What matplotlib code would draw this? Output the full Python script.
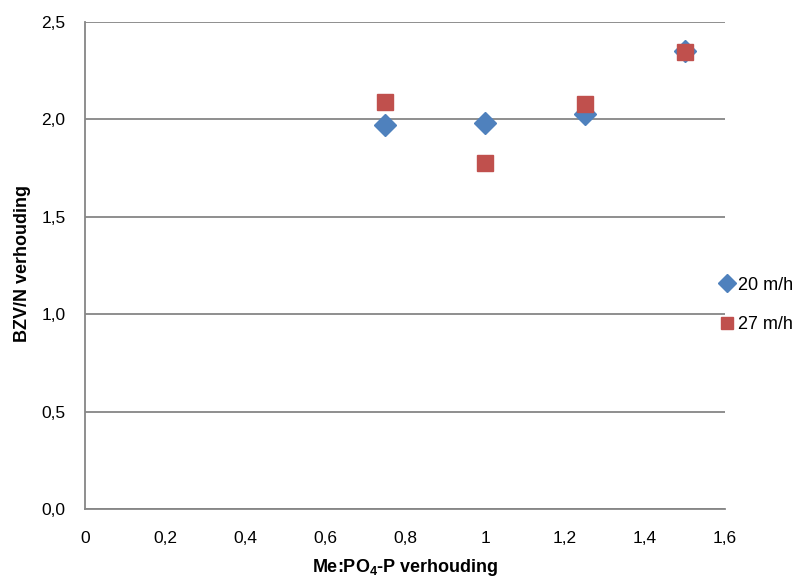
import matplotlib
matplotlib.use("Agg")
import matplotlib.pyplot as plt
from matplotlib.ticker import FuncFormatter

plt.rcParams['font.family'] = ['Liberation Sans Narrow', 'Liberation Sans', 'DejaVu Sans']

# Me:PO4-P ratio and BOD/N ratio per flow rate
ratio = [0.75, 1.0, 1.25, 1.5]
series_20 = [1.97, 1.98, 2.03, 2.35]
series_27 = [2.09, 1.775, 2.08, 2.345]
labels = ["20 m/h", "27 m/h"]

fig = plt.figure(figsize=(8, 5.81), dpi=100)
ax = fig.add_axes([85/800, 1 - 509/581, 640/800, 487/581])

grid_c = "#868686"
ax.set_xlim(0, 1.6)
ax.set_ylim(0, 2.5)
ax.set_xticks([0, 0.2, 0.4, 0.6, 0.8, 1.0, 1.2, 1.4, 1.6])
ax.set_yticks([0, 0.5, 1.0, 1.5, 2.0, 2.5])
ax.yaxis.set_major_formatter(FuncFormatter(lambda v, p: f"{v:.1f}".replace(".", ",")))
ax.xaxis.set_major_formatter(FuncFormatter(lambda v, p: (f"{v:g}").replace(".", ",")))
ax.grid(axis="y", color=grid_c, linewidth=1.3)
ax.set_axisbelow(True)
for s in ["top", "right"]:
    ax.spines[s].set_visible(False)
for s in ["left", "bottom"]:
    ax.spines[s].set_color(grid_c)
    ax.spines[s].set_linewidth(1.3)
ax.tick_params(length=0, labelsize=12.5)
ax.tick_params(axis="x", pad=16)
ax.tick_params(axis="y", pad=14)

h1, = ax.plot(ratio, series_20, linestyle="none", marker="D", markersize=11,
              color="#4F81BD", label=labels[0], clip_on=False)
h2, = ax.plot(ratio, series_27, linestyle="none", marker="s", markersize=11,
              color="#C0504D", label=labels[1], clip_on=False)

ax.set_xlabel("Me:PO$_\\mathregular{4}$-P verhouding", fontsize=13, fontweight="bold")
ax.set_ylabel("BZV/N verhouding", fontsize=13, fontweight="bold")
ax.xaxis.set_label_coords(0.5, -0.098)
ax.yaxis.set_label_coords(-0.084, 0.505)

fig.legend(handles=[h1, h2], loc="center left", bbox_to_anchor=(719/800, 1 - 305/581),
           frameon=False, fontsize=13, handlelength=0.9, handletextpad=0.15,
           markerscale=0.8, labelspacing=1.25, borderaxespad=0, borderpad=0)

fig.savefig("out.png", dpi=100)
